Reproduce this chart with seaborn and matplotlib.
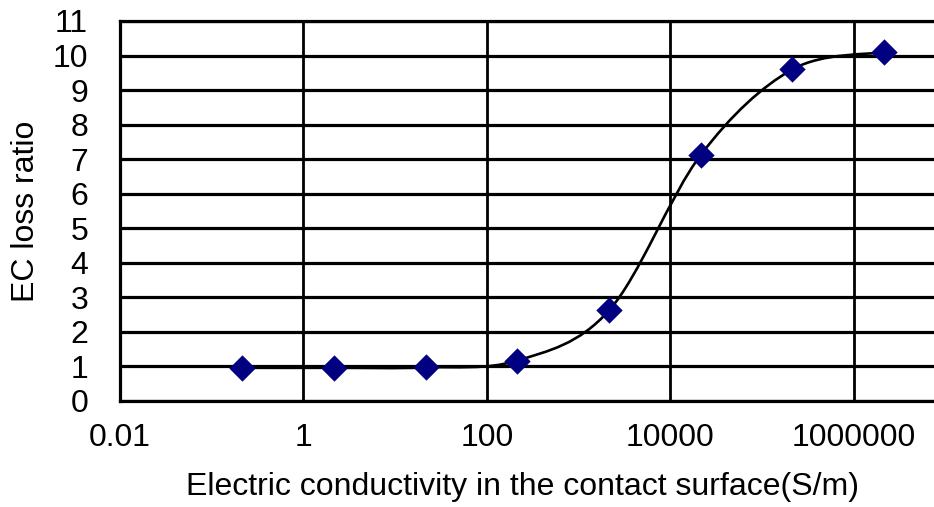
import numpy as np
import matplotlib
matplotlib.use("Agg")
import matplotlib.pyplot as plt
from matplotlib.path import Path
from matplotlib.patches import PathPatch
import seaborn as sns
import pandas as pd

# data
conductivity = [0.215, 2.15, 21.5, 215, 2150, 21500, 215000, 2150000]
ec_loss_ratio = [0.96, 0.96, 0.97, 1.17, 2.62, 7.12, 9.6, 10.1]
x_ticks = [0.01, 1, 100, 10000, 1000000]
x_tick_labels = ["0.01", "1", "100", "10000", "1000000"]
y_ticks = list(range(0, 12))

df = pd.DataFrame({"x": conductivity, "y": ec_loss_ratio})

sns.set_theme(style="white")
plt.rcParams["font.family"] = ["Liberation Sans", "DejaVu Sans"]

fig = plt.figure(figsize=(9.34, 5.07), dpi=100)
ax = fig.add_axes([120 / 934, 1 - 401 / 507, 917 / 934, 380 / 507])
ax.set_xscale("log")
ax.set_xlim(0.01, 1e8)
ax.set_ylim(0, 11)

# grid
for yv in y_ticks:
    ax.axhline(yv, color="black", lw=2.3, zorder=1)
for xv in x_ticks:
    ax.axvline(xv, color="black", lw=2.0, zorder=1)

# smoothed line (Bezier through the data points, like a spreadsheet smoothed line)
u = np.log10(np.asarray(conductivity, float))
v = np.asarray(ec_loss_ratio, float)
P = np.column_stack([u, v])
Pext = np.vstack([P[0], P, P[-1]])
verts = [P[0]]
codes = [Path.MOVETO]
for i in range(len(P) - 1):
    p0, p1, p2, p3 = Pext[i], Pext[i + 1], Pext[i + 2], Pext[i + 3]
    c1 = p1 + (p2 - p0) / 6.0
    c2 = p2 - (p3 - p1) / 6.0
    verts += [c1, c2, p2]
    codes += [Path.CURVE4] * 3
verts = np.array(verts)
verts[:, 0] = 10 ** verts[:, 0]
patch = PathPatch(Path(verts, codes), fill=False, edgecolor="black", lw=1.9,
                  transform=ax.transData, zorder=3)
ax.add_patch(patch)

sns.scatterplot(data=df, x="x", y="y", marker="D", s=180, color="#000080",
                linewidth=0, zorder=4, ax=ax, legend=False)

ax.set_xticks(x_ticks)
ax.set_xticklabels(x_tick_labels)
ax.set_yticks(y_ticks)
ax.minorticks_off()
ax.tick_params(axis="x", length=0, pad=16, labelsize=23, colors="black")
ax.tick_params(axis="y", length=0, pad=23, labelsize=23, colors="black")

for s in ax.spines.values():
    s.set_color("black")
    s.set_linewidth(2.3)
    s.set_zorder(2)

ax.set_xlabel("Electric conductivity in the contact surface(S/m)", fontsize=23, color="black")
ax.set_ylabel("EC loss ratio", fontsize=23, color="black")
ax.xaxis.label.set_va("center")
ax.xaxis.set_label_coords((523 - 120) / 917, (401 - 487) / 380)
ax.yaxis.set_label_coords((41 - 120) / 917, 0.5)

fig.savefig("out.png", dpi=100)
